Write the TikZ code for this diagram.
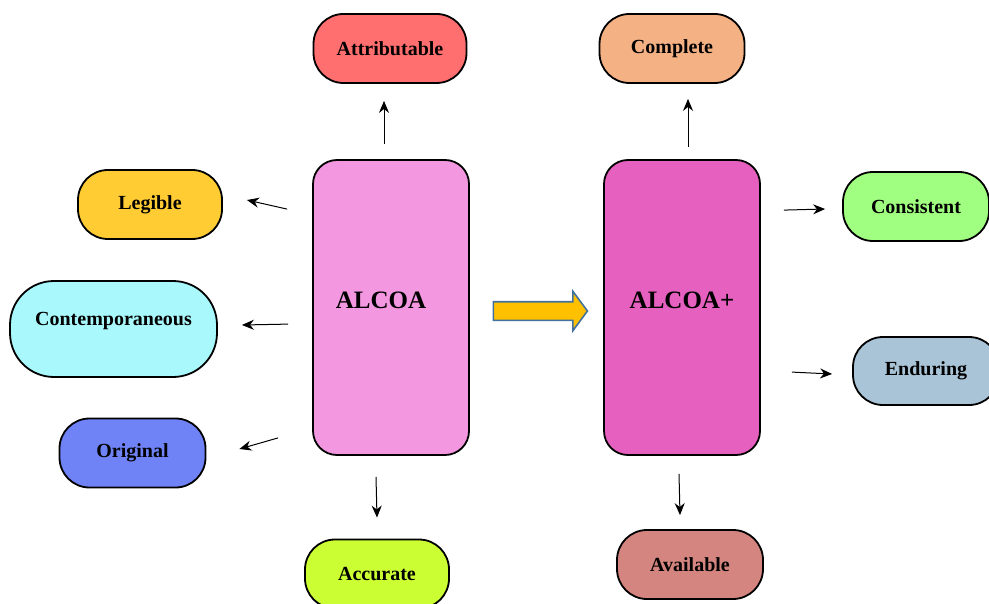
\documentclass[tikz,border=0pt]{standalone}
\usepackage{fontspec}
\setmainfont{Liberation Serif}
\usetikzlibrary{arrows.meta, shapes.arrows}
\definecolor{attrcol}{HTML}{FF6F6F}
\definecolor{complcol}{HTML}{F4B183}
\definecolor{alcoacol}{HTML}{F397E0}
\definecolor{pluscol}{HTML}{E660C0}
\definecolor{legcol}{HTML}{FFCC33}
\definecolor{contcol}{HTML}{A9F8FC}
\definecolor{origcol}{HTML}{6F82F6}
\definecolor{conscol}{HTML}{A0FF80}
\definecolor{enducol}{HTML}{A9C4D6}
\definecolor{accucol}{HTML}{CCFF33}
\definecolor{availcol}{HTML}{D4857F}
\definecolor{shiftcol}{HTML}{FFC000}
\definecolor{shiftline}{HTML}{41719C}

\tikzset{
  pill/.style={draw, line width=0.9pt, rounded corners=15pt, inner sep=0pt,
    minimum width=73pt, minimum height=34.5pt,
    font=\bfseries\fontsize{10}{12}\selectfont},
  core/.style={draw, line width=0.9pt, rounded corners=12pt, inner sep=0pt,
    minimum width=78pt, minimum height=147.5pt, text depth=7pt,
    font=\bfseries\fontsize{12.5}{15}\selectfont},
  arr/.style={-{Stealth[length=6pt,width=5pt]}, line width=0.5pt},
}

\begin{document}
\begin{tikzpicture}[x=0.5pt, y=-0.5pt]
  \useasboundingbox (0,0) rectangle (989,604);

  % centre boxes
  \node[core, fill=alcoacol] (alcoa) at (391,307.5) {ALCOA\rule{10pt}{0pt}};
  \node[core, fill=pluscol] (alcoap) at (682,307.5) {ALCOA+};

  % ALCOA principles
  \node[pill, fill=attrcol, minimum width=76.5pt] (attr) at (390,48.5) {Attributable};
  \node[pill, fill=legcol, minimum width=72pt] (leg) at (150,204.5) {Legible};
  \node[pill, fill=contcol, minimum width=103.5pt, minimum height=48pt,
    rounded corners=22pt, text depth=10pt] (cont) at (113.5,329) {Contemporaneous};
  \node[pill, fill=origcol] (orig) at (132.5,453) {Original};
  \node[pill, fill=accucol, minimum width=72pt] (accu) at (377,574) {Accurate};

  % ALCOA+ additions
  \node[pill, fill=complcol, minimum width=72.5pt] (compl) at (672,48.5) {Complete};
  \node[pill, fill=conscol] (cons) at (916,206.5) {Consistent};
  \node[pill, fill=enducol, minimum height=34pt] (endu) at (926,371) {Enduring};
  \node[pill, fill=availcol] (avail) at (690,564.5) {Available};

  % block arrow
  \node[single arrow, draw=shiftline, fill=shiftcol, line width=0.8pt,
    minimum height=47pt, inner xsep=0pt, inner ysep=4.25pt,
    single arrow head extend=5.25pt, single arrow tip angle=107] (shift) at (537,311) {};

  % connectors
  \draw[arr] ([shift={(-7,-15)}]alcoa.north) -- ([shift={(-6,17)}]attr.south);
  \draw[arr] ([shift={(-25,50)}]alcoa.north west) -- ([shift={(24,-4.5)}]leg.east);
  \draw[arr] ([shift={(-24,165)}]alcoa.north west) -- ([shift={(24,-4)}]cont.east);
  \draw[arr] ([shift={(-34,-18)}]alcoa.south west) -- ([shift={(33,-4)}]orig.east);
  \draw[arr] ([shift={(-15,21)}]alcoa.south) -- ([shift={(0,-21)}]accu.north);
  \draw[arr] ([shift={(6,-12)}]alcoap.north) -- ([shift={(16,15)}]compl.south);
  \draw[arr] ([shift={(23,51)}]alcoap.north east) -- ([shift={(-17,2.5)}]cons.west);
  \draw[arr] ([shift={(31,213)}]alcoap.north east) -- ([shift={(-20,3)}]endu.west);
  \draw[arr] ([shift={(-3,18)}]alcoap.south) -- ([shift={(-10,-14)}]avail.north);
\end{tikzpicture}
\end{document}
